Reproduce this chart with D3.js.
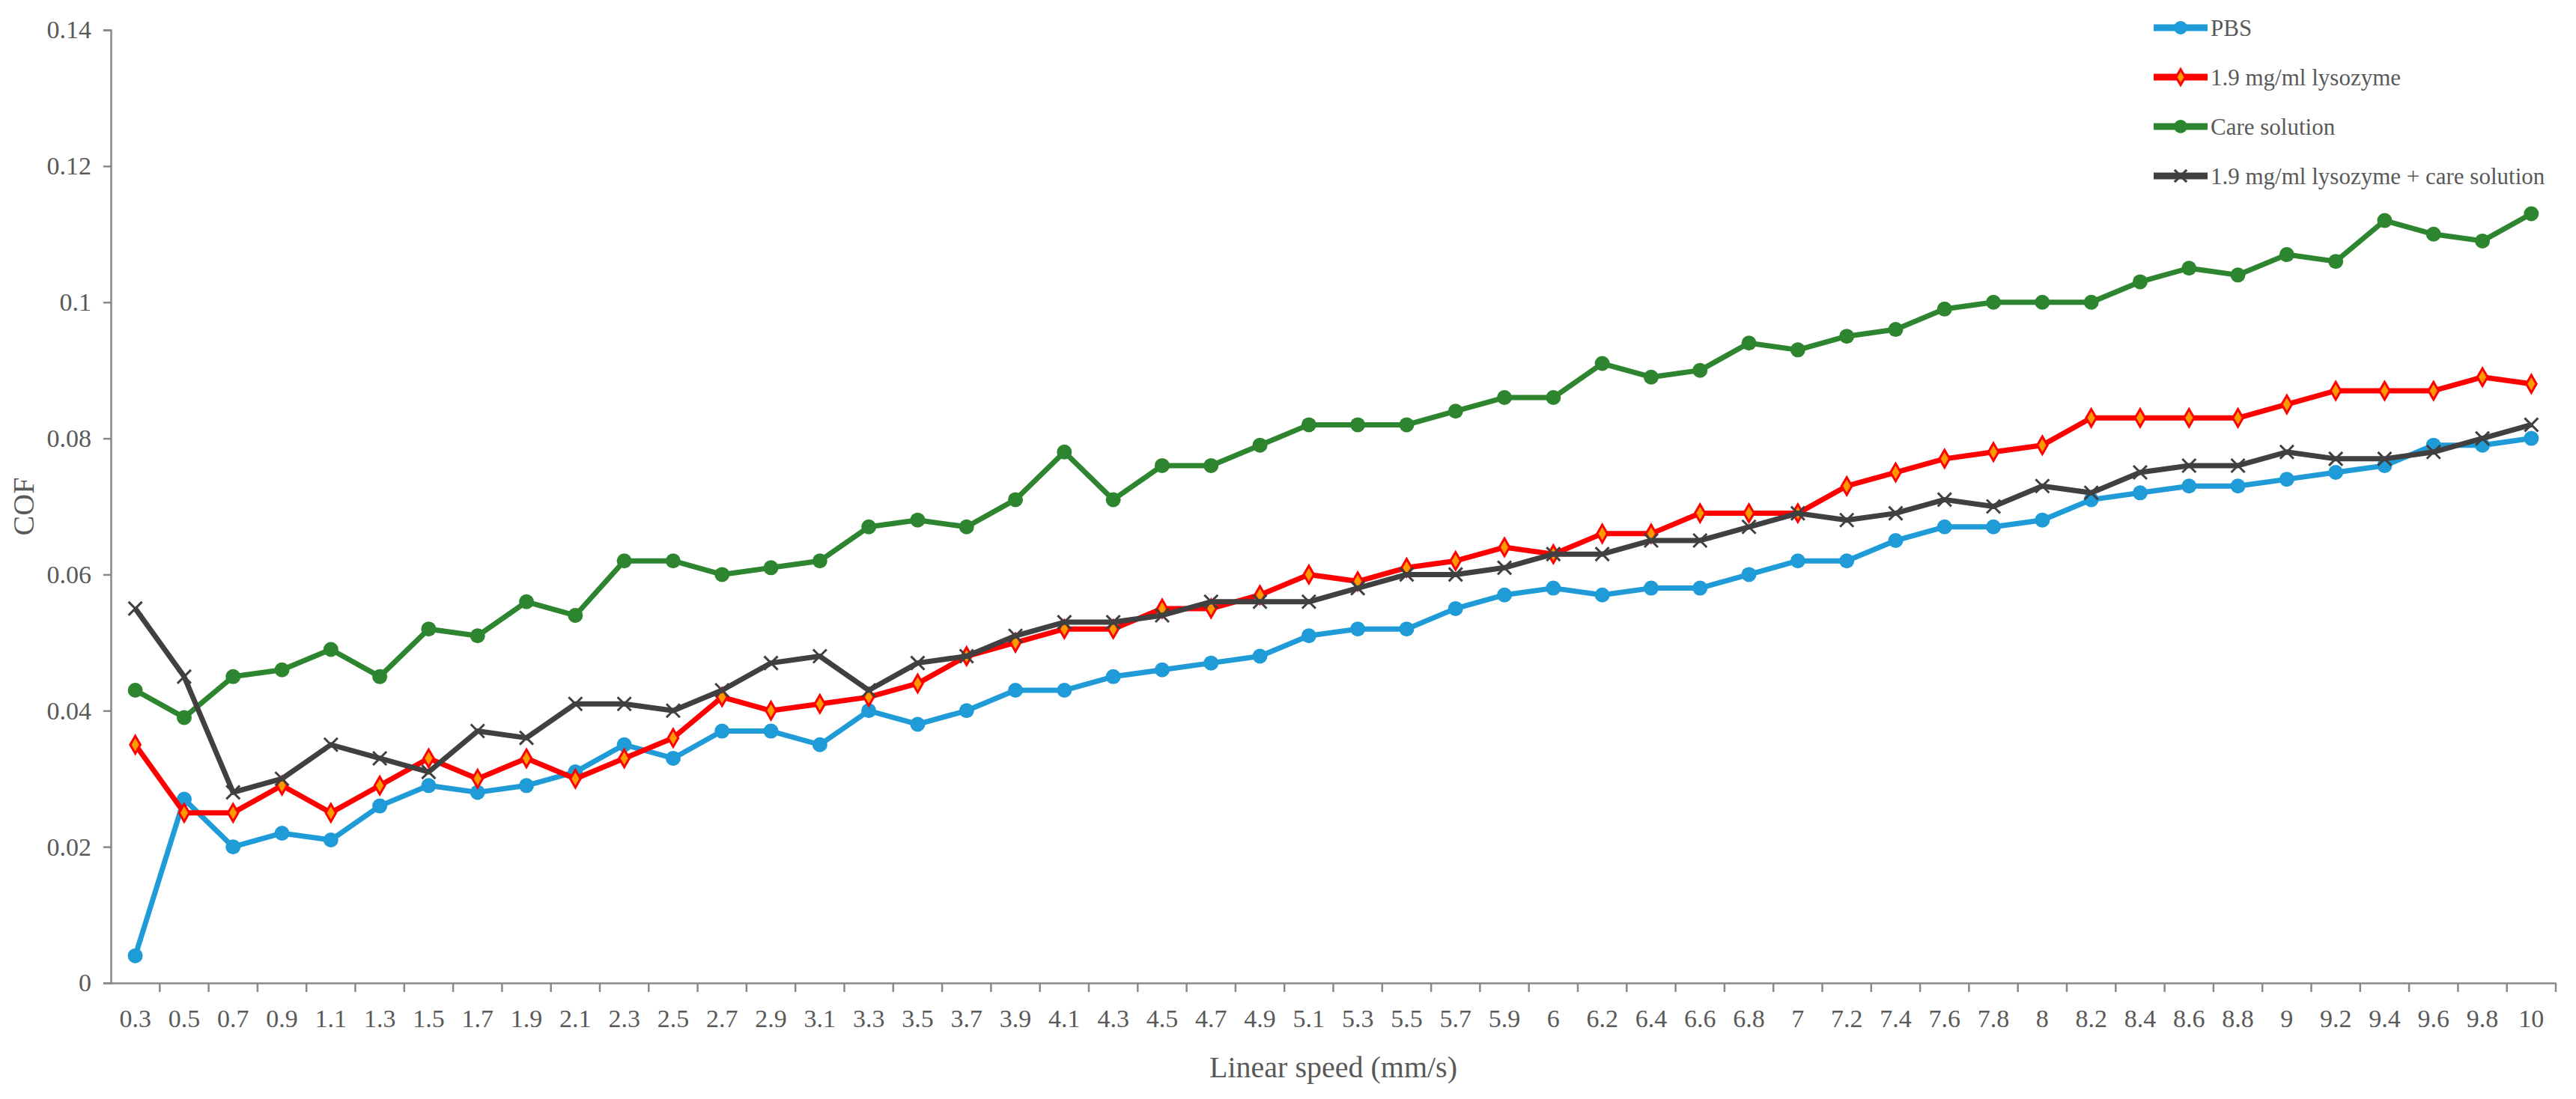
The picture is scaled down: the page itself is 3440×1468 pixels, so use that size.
<!DOCTYPE html>
<html>
<head>
<meta charset="utf-8">
<script src="https://cdn.jsdelivr.net/npm/d3@7"></script>
<style>
  body { margin: 0; background: #fff; }
  text { font-family: "Liberation Serif", "DejaVu Serif", serif; fill: #595959; }
</style>
</head>
<body>
<script>
const speeds = ['0.3','0.5','0.7','0.9','1.1','1.3','1.5','1.7','1.9','2.1','2.3','2.5','2.7','2.9','3.1','3.3','3.5','3.7','3.9','4.1','4.3','4.5','4.7','4.9','5.1','5.3','5.5','5.7','5.9',
  '6','6.2','6.4','6.6','6.8','7','7.2','7.4','7.6','7.8','8','8.2','8.4','8.6','8.8','9','9.2','9.4','9.6','9.8','10'];

const pbs = [0.004,0.027,0.020,0.022,0.021,0.026,0.029,0.028,0.029,0.031,0.035,0.033,0.037,0.037,0.035,0.040,0.038,0.040,0.043,0.043,0.045,0.046,0.047,0.048,0.051,0.052,0.052,0.055,0.057,
  0.058,0.057,0.058,0.058,0.060,0.062,0.062,0.065,0.067,0.067,0.068,0.071,0.072,0.073,0.073,0.074,0.075,0.076,0.079,0.079,0.080];
const lysozyme = [0.035,0.025,0.025,0.029,0.025,0.029,0.033,0.030,0.033,0.030,0.033,0.036,0.042,0.040,0.041,0.042,0.044,0.048,0.050,0.052,0.052,0.055,0.055,0.057,0.060,0.059,0.061,0.062,0.064,
  0.063,0.066,0.066,0.069,0.069,0.069,0.073,0.075,0.077,0.078,0.079,0.083,0.083,0.083,0.083,0.085,0.087,0.087,0.087,0.089,0.088];
const care = [0.043,0.039,0.045,0.046,0.049,0.045,0.052,0.051,0.056,0.054,0.062,0.062,0.060,0.061,0.062,0.067,0.068,0.067,0.071,0.078,0.071,0.076,0.076,0.079,0.082,0.082,0.082,0.084,0.086,
  0.086,0.091,0.089,0.090,0.094,0.093,0.095,0.096,0.099,0.100,0.100,0.100,0.103,0.105,0.104,0.107,0.106,0.112,0.110,0.109,0.113];
const combo = [0.055,0.045,0.028,0.030,0.035,0.033,0.031,0.037,0.036,0.041,0.041,0.040,0.043,0.047,0.048,0.043,0.047,0.048,0.051,0.053,0.053,0.054,0.056,0.056,0.056,0.058,0.060,0.060,0.061,
  0.063,0.063,0.065,0.065,0.067,0.069,0.068,0.069,0.071,0.070,0.073,0.072,0.075,0.076,0.076,0.078,0.077,0.077,0.078,0.080,0.082];
const yTicks = [0, 0.02, 0.04, 0.06, 0.08, 0.1, 0.12, 0.14];

const series = [
  {name: 'PBS', values: pbs, color: '#1f9bd7', marker: 'circle'},
  {name: '1.9 mg/ml lysozyme', values: lysozyme, color: '#ff0000', marker: 'diamond'},
  {name: 'Care solution', values: care, color: '#2e8530', marker: 'circle'},
  {name: '1.9 mg/ml lysozyme + care solution', values: combo, color: '#404040', marker: 'cross'}
];

const W = 3440, H = 1468;
const margin = {top: 40, right: 27, bottom: 155, left: 148};
const width = W - margin.left - margin.right;
const height = H - margin.top - margin.bottom;

const svg = d3.select('body').append('svg').attr('width', W).attr('height', H);
const g = svg.append('g').attr('transform', `translate(${margin.left},${margin.top})`);

const x = d3.scaleBand().domain(speeds).range([0, width]);
const y = d3.scaleLinear().domain([0, 0.14]).range([height, 0]);

// y axis
const yAxis = g.append('g').call(d3.axisLeft(y).tickValues(yTicks).tickFormat(d3.format('')).tickSizeOuter(0).tickSize(10));
yAxis.selectAll('text').style('font-size', '34px').attr('x', -26);
yAxis.selectAll('line, path').attr('stroke', '#888').attr('stroke-width', 2.5);

// x axis, ticks between categories
const xAxis = g.append('g').attr('transform', `translate(0,${height})`)
  .call(d3.axisBottom(x).tickSize(0).tickSizeOuter(0));
xAxis.selectAll('text').style('font-size', '34px').attr('y', 47).attr('dy', '0.35em');
xAxis.select('path').attr('stroke', '#888').attr('stroke-width', 2.5);
xAxis.selectAll('.sep').data(speeds).enter().append('line')
  .attr('x1', d => x(d) + x.bandwidth()).attr('x2', d => x(d) + x.bandwidth())
  .attr('y1', 0).attr('y2', 12).attr('stroke', '#888').attr('stroke-width', 2.5);

g.append('text').attr('x', width / 2).attr('y', height + 112).attr('dy', '0.35em').attr('text-anchor', 'middle')
  .style('font-size', '40px').text('Linear speed (mm/s)');
svg.append('text').attr('transform', `translate(45,${margin.top + height / 2}) rotate(-90)`)
  .attr('text-anchor', 'middle').style('font-size', '40px').text('COF');

const line = d3.line().x((d, i) => x(speeds[i]) + x.bandwidth() / 2).y(d => y(d));

function drawMarker(sel, s, size) {
  if (s.marker === 'circle') {
    sel.append('circle').attr('r', size).attr('fill', s.color);
  } else if (s.marker === 'diamond') {
    sel.append('path').attr('d', d3.symbol(d3.symbolDiamond, size * size * 1.6)())
      .attr('fill', '#ff9900').attr('stroke', s.color).attr('stroke-width', 3);
  } else {
    const r = size * 0.9;
    sel.append('path').attr('d', `M${-r},${-r}L${r},${r}M${-r},${r}L${r},${-r}`)
      .attr('stroke', s.color).attr('stroke-width', 3).attr('fill', 'none');
  }
}

series.forEach(s => {
  g.append('path').datum(s.values).attr('d', line).attr('fill', 'none')
    .attr('stroke', s.color).attr('stroke-width', 7).attr('stroke-linejoin', 'round');
  s.values.forEach((v, i) => {
    const m = g.append('g').attr('transform', `translate(${x(speeds[i]) + x.bandwidth() / 2},${y(v)})`);
    drawMarker(m, s, 10);
  });
});

// legend
const legend = svg.append('g').attr('transform', 'translate(2876,37)');
series.forEach((s, i) => {
  const row = legend.append('g').attr('transform', `translate(0,${i * 66})`);
  row.append('line').attr('x1', 0).attr('x2', 72).attr('stroke', s.color).attr('stroke-width', 9);
  const m = row.append('g').attr('transform', 'translate(36,0)');
  drawMarker(m, s, 9);
  row.append('text').attr('x', 76).attr('dy', '0.35em').style('font-size', '31px').text(s.name);
});
</script>
</body>
</html>
